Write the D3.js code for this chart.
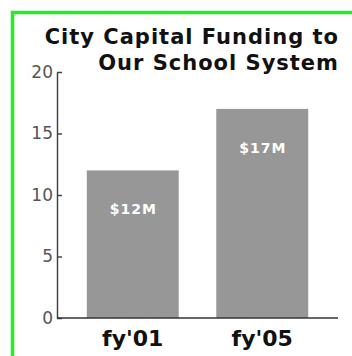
<!DOCTYPE html>
<html>
<head>
<meta charset="utf-8">
<script src="https://cdn.jsdelivr.net/npm/d3@7"></script>
<style>
  body { margin: 0; background: #fff; }
  svg { display: block; font-family: "DejaVu Sans", Verdana, sans-serif; }
</style>
</head>
<body>
<div id="chart"></div>
<script>
// data
const years = ["fy'01", "fy'05"];
const funding = [12, 17];
const valueLabels = ["$12M", "$17M"];
const yTicks = [0, 5, 10, 15, 20];
const titleLines = ["City Capital Funding to", "Our School System"];

const width = 352, height = 356;

const svg = d3.select("#chart").append("svg")
  .attr("width", width)
  .attr("height", height);

// green frame
svg.append("rect")
  .attr("x", 12.5).attr("y", 12.5)
  .attr("width", 400).attr("height", 400)
  .attr("fill", "#fff")
  .attr("stroke", "#22ee22")
  .attr("stroke-width", 3.5);

const y = d3.scaleLinear().domain([0, 20]).range([318, 72]);
const x = d3.scaleBand().domain(years).range([57, 338])
  .paddingInner(0.29).paddingOuter(0.23);

// bars
svg.append("g").selectAll("rect")
  .data(funding)
  .join("rect")
  .attr("x", (d, i) => x(years[i]))
  .attr("y", d => y(d))
  .attr("width", x.bandwidth())
  .attr("height", d => y(0) - y(d))
  .attr("fill", "#979797");

// value labels inside bars
svg.append("g").selectAll("text")
  .data(funding)
  .join("text")
  .attr("x", (d, i) => x(years[i]) + x.bandwidth() / 2 + 0.5)
  .attr("y", d => y(d) + 44)
  .attr("text-anchor", "middle")
  .attr("fill", "#fff")
  .style("font-size", "14px")
  .style("font-weight", "bold")
  .style("letter-spacing", "1px")
  .text((d, i) => valueLabels[i]);

// y axis
const yAxis = svg.append("g")
  .attr("transform", "translate(57,0)")
  .call(d3.axisLeft(y).tickValues(yTicks).tickSizeInner(-5).tickSizeOuter(0).tickPadding(4));
yAxis.select(".domain").attr("stroke", "#444").attr("stroke-width", 1.5);
yAxis.selectAll(".tick line").attr("stroke", "#444").attr("stroke-width", 1.5);
yAxis.selectAll(".tick text")
  .attr("fill", "#555")
  .style("font-size", "17px")
  .style("font-family", "DejaVu Sans, Verdana, sans-serif");

// baseline
svg.append("line")
  .attr("x1", 57).attr("x2", 338)
  .attr("y1", y(0)).attr("y2", y(0))
  .attr("stroke", "#333")
  .attr("stroke-width", 1.5);

// category labels
svg.append("g").selectAll("text")
  .data(years)
  .join("text")
  .attr("x", d => x(d) + x.bandwidth() / 2)
  .attr("y", 346)
  .attr("text-anchor", "middle")
  .attr("fill", "#111")
  .style("font-size", "22px")
  .style("font-weight", "bold")
  .text(d => d);

// title
svg.append("g").selectAll("text")
  .data(titleLines)
  .join("text")
  .attr("x", 339)
  .attr("y", (d, i) => 44 + i * 26)
  .attr("text-anchor", "end")
  .attr("fill", "#111")
  .style("font-size", "21px")
  .style("font-weight", "bold")
  .style("letter-spacing", "1px")
  .text(d => d);
</script>
</body>
</html>
